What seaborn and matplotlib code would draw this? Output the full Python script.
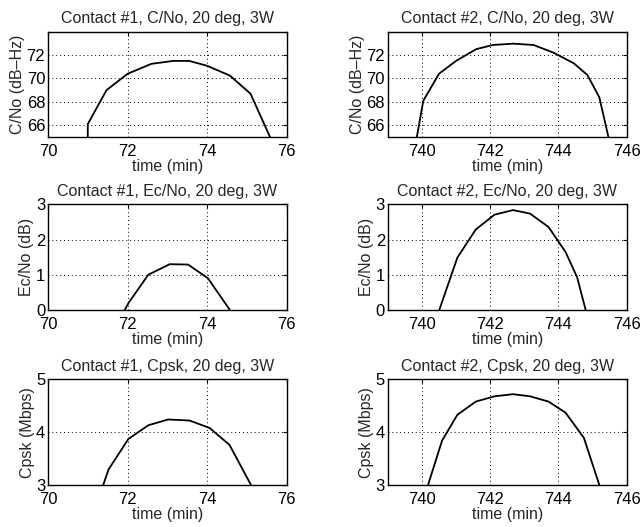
import matplotlib
matplotlib.use("Agg")
import matplotlib.pyplot as plt
import seaborn as sns
import numpy as np

# ---- data ----
c1_cno_t = [71.0, 71.0, 71.47, 72.0, 72.6, 73.15, 73.55, 74.0, 74.57, 75.09, 75.62]
c1_cno_v = [64.0, 66.1, 69.0, 70.4, 71.25, 71.5, 71.5, 71.08, 70.25, 68.7, 64.7]

c2_cno_t = [739.82, 740.04, 740.5, 741.0, 741.59, 742.08, 742.68, 743.27, 743.86, 744.45, 744.85, 745.2, 745.5]
c2_cno_v = [64.5, 68.1, 70.4, 71.5, 72.5, 72.86, 72.97, 72.86, 72.2, 71.3, 70.3, 68.4, 64.6]

c1_ecno_t = [71.93, 72.02, 72.52, 73.06, 73.52, 74.02, 74.57]
c1_ecno_v = [0.0, 0.19, 1.0, 1.30, 1.29, 0.90, 0.0]

c2_ecno_t = [740.51, 741.04, 741.58, 742.13, 742.67, 743.17, 743.71, 744.21, 744.55, 744.80]
c2_ecno_v = [0.0, 1.49, 2.29, 2.71, 2.84, 2.74, 2.36, 1.65, 0.93, 0.0]

c1_cpsk_t = [71.39, 71.52, 72.02, 72.52, 73.02, 73.56, 74.06, 74.56, 75.10]
c1_cpsk_v = [3.0, 3.29, 3.87, 4.13, 4.24, 4.22, 4.08, 3.76, 3.0]

c2_cpsk_t = [740.18, 740.59, 741.04, 741.58, 742.13, 742.67, 743.17, 743.71, 744.21, 744.75, 745.20]
c2_cpsk_v = [3.0, 3.84, 4.33, 4.58, 4.68, 4.72, 4.68, 4.58, 4.37, 3.89, 3.0]

titles = [["Contact #1, C/No, 20 deg, 3W", "Contact #2, C/No, 20 deg, 3W"],
          ["Contact #1, Ec/No, 20 deg, 3W", "Contact #2, Ec/No, 20 deg, 3W"],
          ["Contact #1, Cpsk, 20 deg, 3W", "Contact #2, Cpsk, 20 deg, 3W"]]
ylabels = ["C/No (dB\u2013Hz)", "Ec/No (dB)", "Cpsk (Mbps)"]
xlabel = "time (min)"
xticks_1 = [70, 72, 74, 76]
xticks_2 = [740, 742, 744, 746]
yticks = [[66, 68, 70, 72], [0, 1, 2, 3], [3, 4, 5]]
ylims = [(65, 74), (0, 3), (3, 5)]

series = [[(c1_cno_t, c1_cno_v), (c2_cno_t, c2_cno_v)],
          [(c1_ecno_t, c1_ecno_v), (c2_ecno_t, c2_ecno_v)],
          [(c1_cpsk_t, c1_cpsk_v), (c2_cpsk_t, c2_cpsk_v)]]

sns.set_style("white")
plt.rcParams['font.family'] = ['Liberation Sans', 'DejaVu Sans']

fig = plt.figure(figsize=(6.4, 5.27), dpi=100)
lefts = [0.075, 0.606]
width = 0.373
bottoms = [0.740, 0.412, 0.080]
height = 0.200

for r in range(3):
    for c in range(2):
        ax = fig.add_axes([lefts[c], bottoms[r], width, height])
        t, v = series[r][c]
        sns.lineplot(x=t, y=v, ax=ax, color="black", linewidth=1.3,
                     sort=False, estimator=None)
        if c == 0:
            ax.set_xlim(70, 76)
            ax.set_xticks(xticks_1)
        else:
            ax.set_xlim(739, 746)
            ax.set_xticks(xticks_2)
        ax.set_ylim(*ylims[r])
        ax.set_yticks(yticks[r])
        ax.grid(True, color="black", linestyle=(0, (1, 3)), linewidth=0.7)
        for s in ax.spines.values():
            s.set_visible(True)
            s.set_color("black")
            s.set_linewidth(1.0)
        ax.tick_params(direction="in", length=3, top=True, right=True,
                       labelsize=12, colors="black")
        ax.tick_params(axis="x", pad=5)
        ax.tick_params(axis="y", pad=2)
        ax.set_title(titles[r][c], fontsize=11.5, pad=6)
        ax.set_xlabel(xlabel, fontsize=11.5, labelpad=0)
        ax.set_ylabel(ylabels[r], fontsize=11.5, labelpad=1)

fig.savefig("out.png", dpi=100)
